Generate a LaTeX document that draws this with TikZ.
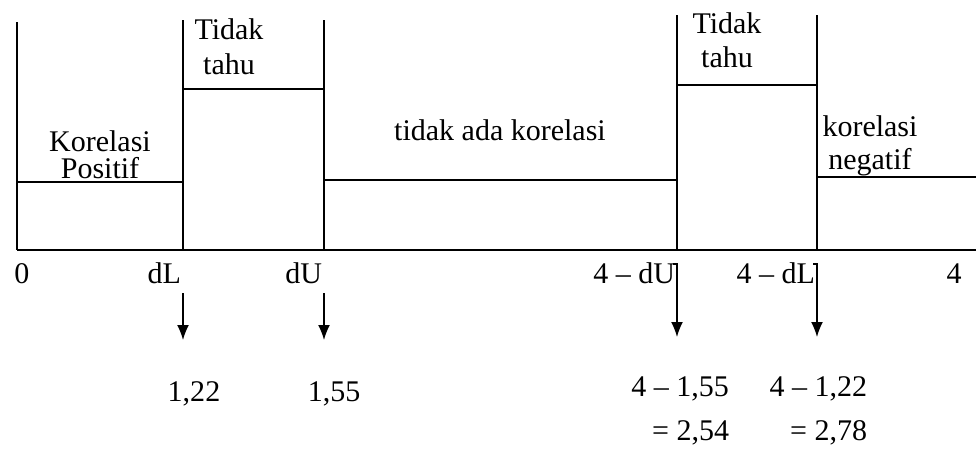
\documentclass[tikz,border=0pt]{standalone}
\usepackage{fontspec}
\setmainfont{Liberation Serif}
\usetikzlibrary{arrows.meta}

\begin{document}
\begin{tikzpicture}[x=0.4pt, y=-0.4pt, line width=0.8pt,
    lbl/.style={anchor=base, inner sep=0pt, font=\fontsize{12}{14}\selectfont},
    darrow/.style={line width=0.6pt, -{Latex[length=6pt, width=4.8pt]}}]
    \useasboundingbox (0,0) rectangle (976,455);

    % Axis and region boundaries
    \draw (17,250) -- (976,250);
    \draw (17,22) -- (17,250);
    \draw (183,20) -- (183,250);
    \draw (324,20) -- (324,250);
    \draw (677,15) -- (677,250);
    \draw (817,15) -- (817,250);

    % Level of each region
    \draw (17,182) -- (183,182);
    \draw (183,89) -- (324,89);
    \draw (324,180) -- (677,180);
    \draw (677,85) -- (817,85);
    \draw (817,177) -- (976,177);

    % Region texts
    \node[lbl] (kor1) at (100,151) {Korelasi};
    \node[lbl] (pos1) at (100,178) {Positif};
    \node[lbl] (td1) at (229,39) {Tidak};
    \node[lbl] (th1) at (229,74) {tahu};
    \node[lbl] (nok) at (500,140) {tidak ada korelasi};
    \node[lbl] (td2) at (727,33) {Tidak};
    \node[lbl] (th2) at (727,67) {tahu};
    \node[lbl] (kor2) at (870,136) {korelasi};
    \node[lbl] (neg2) at (870,169) {negatif};

    % Scale marks
    \node[lbl] (m0) at (22,283) {0};
    \node[lbl, anchor=base east] (mdL) at (182,283) {dL};
    \node[lbl, anchor=base east] (mdU) at (323,283) {dU};
    \node[lbl, anchor=base east] (m4dU) at (676,283) {4 – dU};
    \node[lbl, anchor=base east] (m4dL) at (816,283) {4 – dL};
    \node[lbl] (m4) at (954,283) {4};

    % Values
    \node[lbl] (vdL) at (194,401) {1,22};
    \node[lbl] (vdU) at (334,401) {1,55};
    \node[lbl, anchor=base east] (v4dU) at (730,396) {4 – 1,55};
    \node[lbl, anchor=base east] (v4dL) at (868,396) {4 – 1,22};
    \node[lbl, anchor=base east] (r4dU) at (730,440) {= 2,54};
    \node[lbl, anchor=base east] (r4dL) at (868,440) {= 2,78};

    % Arrows down to the values
    \coordinate (adL1) at (183,293);
    \coordinate (adL2) at (183,340);
    \coordinate (adU1) at (324,293);
    \coordinate (adU2) at (324,340);
    \coordinate (a4dU1) at (673,264);
    \coordinate (a4dU2) at (677,337);
    \coordinate (a4dL1) at (813,264);
    \coordinate (a4dL2) at (817,337);
    \draw[darrow] (adL1) -- (adL2);
    \draw[darrow] (adU1) -- (adU2);
    \draw[darrow] (a4dU1) -| (a4dU2);
    \draw[darrow] (a4dL1) -| (a4dL2);
\end{tikzpicture}
\end{document}
